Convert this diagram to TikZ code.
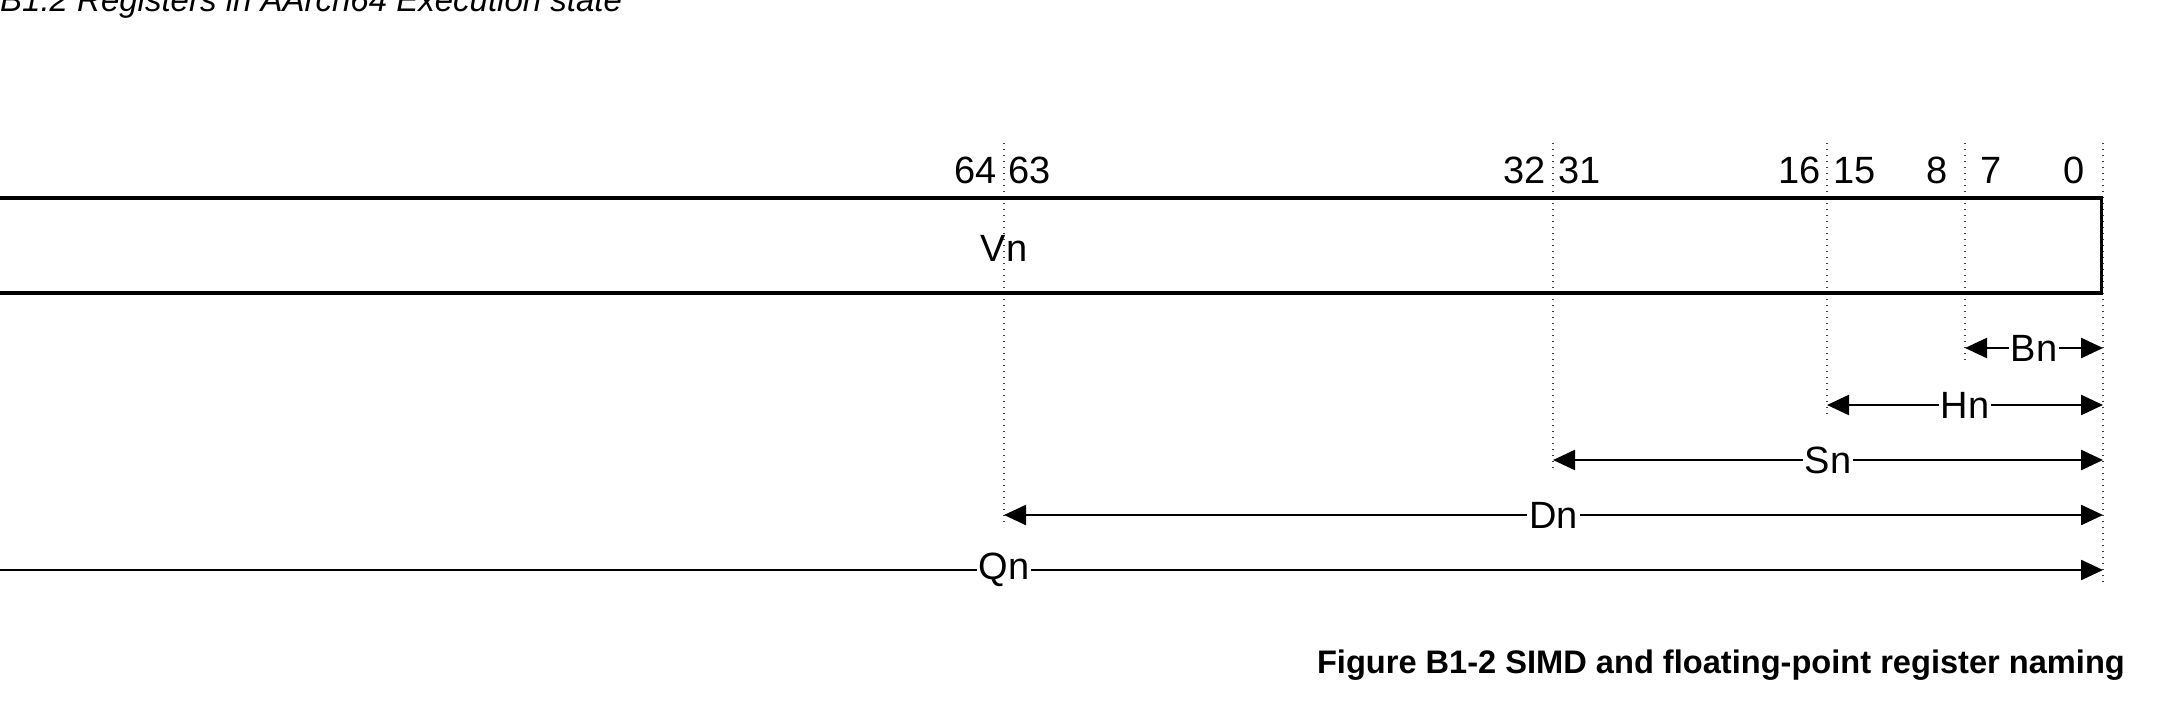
\documentclass[tikz,border=0pt]{standalone}
\usepackage{fontspec}
\setmainfont{Liberation Sans}
\usetikzlibrary{arrows.meta}
\begin{document}
\begin{tikzpicture}[x=1pt,y=-1pt,
  lbl/.style={font=\fontsize{38}{44}\selectfont, inner sep=0pt},
  guide/.style={line width=1.2pt, dash pattern=on 1.4pt off 4.6pt, black!75},
  tipT/.tip={Triangle[length=22pt,width=20pt]},
  span/.style={line width=2.4pt, -tipT},
  dspan/.style={line width=2.4pt, tipT-tipT},
  alab/.style={font=\fontsize{38}{44}\selectfont, fill=white, inner xsep=2pt, inner ysep=0pt}
]
\useasboundingbox (0,0) rectangle (2159,709);

% title and caption
\node[anchor=base west, font=\fontsize{33}{40}\selectfont\itshape, inner sep=0pt] (title) at (0,12) {B1.2 Registers in AArch64 Execution state};
\node[anchor=base east, font=\fontsize{32.6}{38}\selectfont\bfseries, inner sep=0pt] (cap) at (2125,673) {Figure B1-2 SIMD and floating-point register naming};

% guide lines
\coordinate (g63t) at (1004,143); \coordinate (g63b) at (1004,527);
\coordinate (g31t) at (1553,143); \coordinate (g31b) at (1553,472);
\coordinate (g15t) at (1827,143); \coordinate (g15b) at (1827,417);
\coordinate (g7t)  at (1965,143); \coordinate (g7b)  at (1965,362);
\coordinate (g0t)  at (2103,143); \coordinate (g0b)  at (2103,582);
\draw[guide] (g63t) -- (g63b);
\draw[guide] (g31t) -- (g31b);
\draw[guide] (g15t) -- (g15b);
\draw[guide] (g7t) -- (g7b);
\draw[guide] (g0t) -- (g0b);

% register box
\node[draw, line width=3.5pt, minimum width=2143pt, minimum height=95pt, anchor=east, inner sep=0pt] (reg) at (2103,245.5) {};
\node[lbl] (vn) at (1004,248) {Vn};

% bit numbers
\node[lbl, anchor=base east] (n64) at (997,183) {64};
\node[lbl, anchor=base west] (n63) at (1008,183) {63};
\node[lbl, anchor=base east] (n32) at (1546,183) {32};
\node[lbl, anchor=base west] (n31) at (1558,183) {31};
\node[lbl, anchor=base east] (n16) at (1821,183) {16};
\node[lbl, anchor=base west] (n15) at (1833,183) {15};
\node[lbl, anchor=base] (n8) at (1937,183) {8};
\node[lbl, anchor=base] (n7) at (1991,183) {7};
\node[lbl, anchor=base] (n0) at (2074,183) {0};

% spans
\coordinate (Bl) at (1965,348); \coordinate (Br) at (2103,348);
\coordinate (Hl) at (1827,405); \coordinate (Hr) at (2103,405);
\coordinate (Sl) at (1553,460); \coordinate (Sr) at (2103,460);
\coordinate (Dl) at (1004,515); \coordinate (Dr) at (2103,515);
\coordinate (Ql) at (-20,570);  \coordinate (Qr) at (2103,570);
\draw[dspan] (Bl) -- (Br) node[midway, alab] (bn) {Bn};
\draw[dspan] (Hl) -- (Hr) node[midway, alab] (hn) {Hn};
\draw[dspan] (Sl) -- (Sr) node[midway, alab] (sn) {Sn};
\draw[dspan] (Dl) -- (Dr) node[midway, alab] (dn) {Dn};
\draw[span] (Ql) -- (Qr);
\node[alab] (qn) at (1004,570) {Qn};
\end{tikzpicture}
\end{document}
